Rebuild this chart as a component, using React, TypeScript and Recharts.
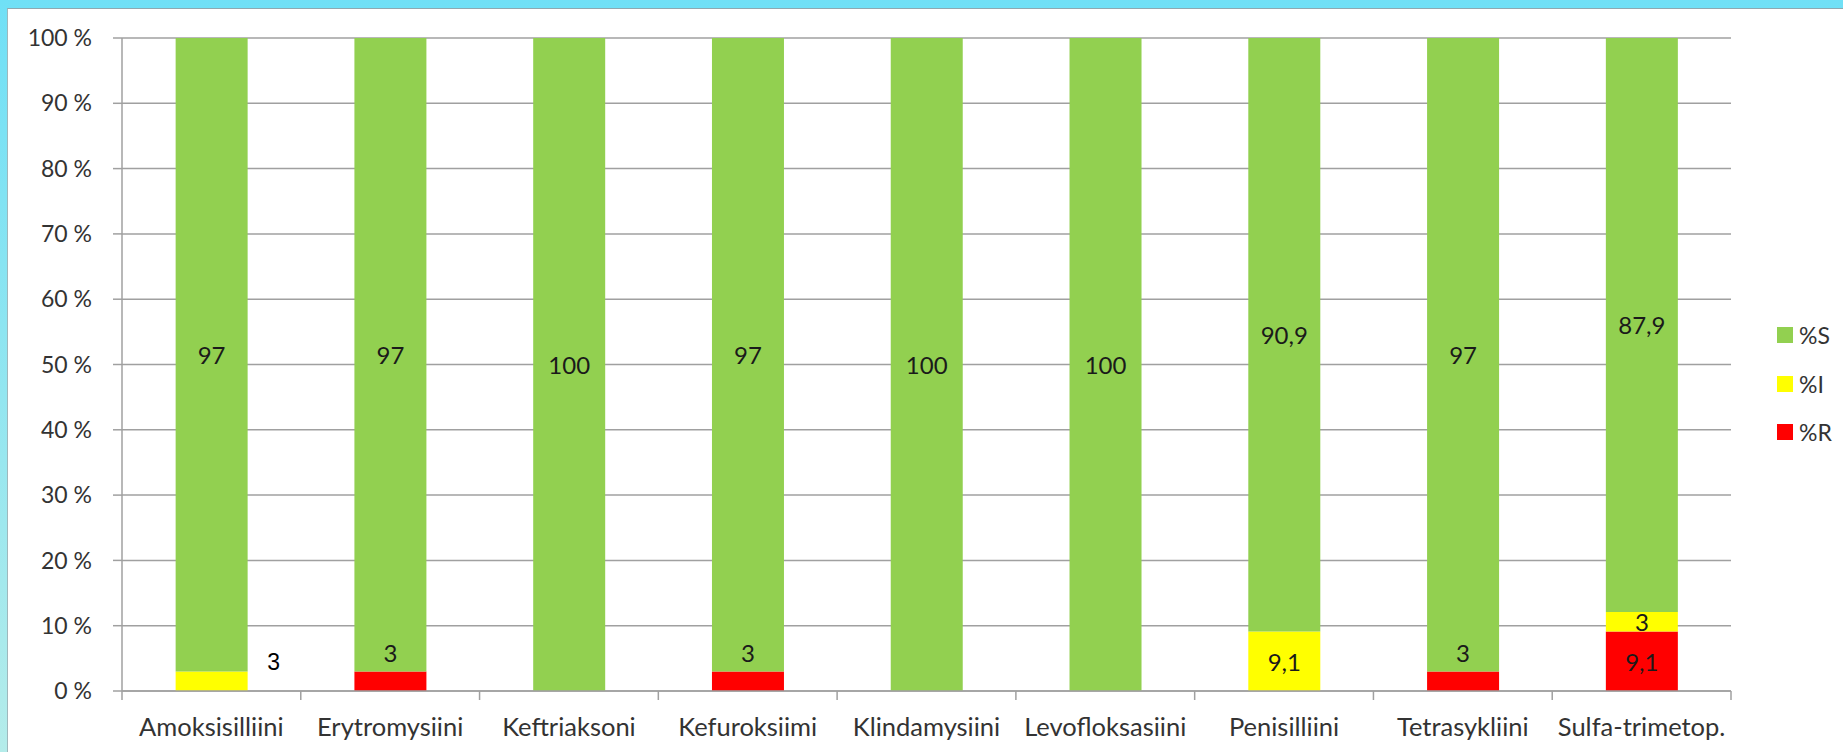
import React from 'react';
import { BarChart, Bar, XAxis, YAxis, CartesianGrid, LabelList, Legend } from 'recharts';

const categories = ['Amoksisilliini', 'Erytromysiini', 'Keftriaksoni', 'Kefuroksiimi', 'Klindamysiini', 'Levofloksasiini', 'Penisilliini', 'Tetrasykliini', 'Sulfa-trimetop.'];
const valuesS = [97, 97, 100, 97, 100, 100, 90.9, 97, 87.9];
const valuesI = [3, 0, 0, 0, 0, 0, 9.1, 0, 3];
const valuesR = [0, 3, 0, 3, 0, 0, 0, 3, 9.1];
const yTicks = [0, 10, 20, 30, 40, 50, 60, 70, 80, 90, 100];

const seriesInfo = [
  { key: 'S', name: '%S', color: '#92d050' },
  { key: 'I', name: '%I', color: '#ffff00' },
  { key: 'R', name: '%R', color: '#ff0000' },
];

const data = categories.map((c, i) => ({ name: c, S: valuesS[i], I: valuesI[i], R: valuesR[i] }));

const FONT = 'Lato, "Liberation Sans", sans-serif';
const W = 1843;
const H = 752;

const fmt = (v: number) => String(v).replace('.', ',');

const entryAccessor = (entry: any) => ({
  name: entry?.payload?.name ?? entry?.name ?? entry?.payload?.payload?.name,
  v: entry?.value,
});

const makeLabel = (series: string) => (props: any) => {
  const { x, y, width, height } = props;
  const info = props.value && typeof props.value === 'object' ? props.value : { v: props.value };
  const idx = categories.indexOf(info.name);
  const raw = Array.isArray(info.v) ? info.v[1] - info.v[0] : info.v;
  const value = idx >= 0 ? (data[idx] as any)[series] : raw;
  if (!value) return null;
  const cx = x + width / 2;
  const cy = y + height / 2;
  const small = height < 30;
  if (small && series === 'I' && idx >= 0 && valuesR[idx] === 0) {
    return (
      <text x={x + width + 26} y={cy - 19} textAnchor="middle" dominantBaseline="central" fontFamily='"Liberation Sans", Arial, sans-serif' fontSize={23} fill="#000">
        {fmt(value)}
      </text>
    );
  }
  if (small && series === 'R') {
    return (
      <text x={cx} y={y - 19} textAnchor="middle" dominantBaseline="central" fontFamily={FONT} fontSize={24} fill="#1a1a1a">
        {fmt(value)}
      </text>
    );
  }
  return (
    <text x={cx} y={cy} textAnchor="middle" dominantBaseline="central" fontFamily={FONT} fontSize={24} fill="#1a1a1a">
      {fmt(value)}
    </text>
  );
};

const XTick = (props: any) => {
  const { x, y, payload, index, visibleTicksCount } = props;
  const off = payload?.offset ?? 0;
  const axisY = y - 27;
  return (
    <g>
      <line x1={x - off} x2={x - off} y1={axisY} y2={axisY + 9} stroke="#a0a0a0" strokeWidth={1.5} />
      {index === visibleTicksCount - 1 ? (
        <line x1={x + off} x2={x + off} y1={axisY} y2={axisY + 9} stroke="#a0a0a0" strokeWidth={1.5} />
      ) : null}
      <text x={x} y={y} dy="0.71em" textAnchor="middle" fontFamily={FONT} fontSize={25.5} fill="#333">
        {payload.value}
      </text>
    </g>
  );
};

const LegendContent = () => (
  <div style={{ fontFamily: FONT, fontSize: 23, color: '#333' }}>
    {seriesInfo.map((s) => (
      <div key={s.key} style={{ display: 'flex', alignItems: 'center', height: 48.5 }}>
        <div style={{ width: 16, height: 16, background: s.color, marginRight: 6 }} />
        <span>{s.name}</span>
      </div>
    ))}
  </div>
);

export default function App() {
  return (
    <div style={{ position: 'absolute', left: 0, top: 0, width: W, height: H, overflow: 'hidden', background: 'linear-gradient(180deg, #70e0f6 0%, #9ee8ee 70%, #b4ecea 100%)' }}>
      <div style={{ position: 'absolute', left: 7, top: 8, right: 0, bottom: 0, background: '#fff', borderTop: '1px solid #8fa8b0', borderLeft: '1px solid #9fb8bc' }} />
      <div style={{ position: 'absolute', left: 0, top: 0 }}>
        <BarChart width={W} height={H} data={data} margin={{ top: 38, right: 112, bottom: 21, left: 42 }} barCategoryGap="30%">
          <CartesianGrid vertical={false} stroke="#a0a0a0" strokeWidth={1.5} />
          <XAxis dataKey="name" height={40} tickSize={9} tickMargin={18} tickLine={false} axisLine={{ stroke: '#a0a0a0', strokeWidth: 1.5 }} tick={<XTick />} interval={0} />
          <YAxis width={80} domain={[0, 100]} ticks={yTicks} tickFormatter={(v: number) => `${v} %`} tickSize={9} tickMargin={21} tickLine={{ stroke: '#a0a0a0', strokeWidth: 1.5 }} axisLine={{ stroke: '#a0a0a0', strokeWidth: 1.5 }} tick={{ fontFamily: FONT, fontSize: 23, fill: '#333' }} />
          <Legend layout="vertical" align="center" verticalAlign="middle" content={<LegendContent />} wrapperStyle={{ left: 1777, top: 311, width: 66 }} />
          <Bar dataKey="R" name="%R" stackId="a" fill="#ff0000" isAnimationActive={false}>
            <LabelList valueAccessor={entryAccessor} content={makeLabel('R')} />
          </Bar>
          <Bar dataKey="I" name="%I" stackId="a" fill="#ffff00" isAnimationActive={false}>
            <LabelList valueAccessor={entryAccessor} content={makeLabel('I')} />
          </Bar>
          <Bar dataKey="S" name="%S" stackId="a" fill="#92d050" isAnimationActive={false}>
            <LabelList valueAccessor={entryAccessor} content={makeLabel('S')} />
          </Bar>
        </BarChart>
      </div>
    </div>
  );
}
